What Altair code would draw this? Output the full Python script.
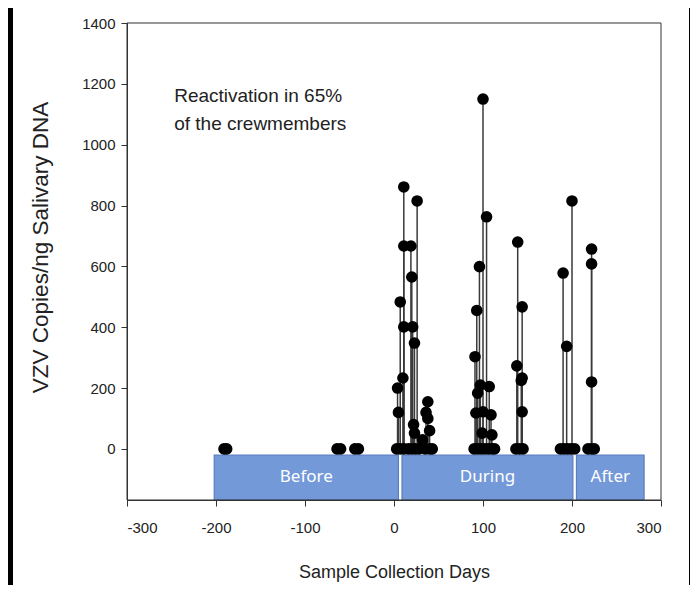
import altair as alt
import pandas as pd

# ---------------- data ----------------
# sample collection day and VZV copies/ng salivary DNA
point_days = [
    -191, -188, -64, -60, -44, -40,
    3, 4, 5, 7, 7, 10, 11, 11, 11, 11, 16, 19, 20, 20, 21, 23, 22, 23, 24, 26, 28, 32, 35, 36, 38, 38, 40, 40, 43,
    90, 91, 92, 93, 94, 94, 96, 97, 98, 99, 100, 100, 102, 104, 106, 107, 109, 110, 110, 113,
    137, 138, 139, 141, 143, 144, 144, 144, 145,
    187, 190, 191, 194, 195, 199, 200, 203,
    218, 222, 222, 222, 222, 225,
]
point_values = [
    0, 0, 0, 0, 0, 0,
    0, 200, 120, 483, 0, 233, 401, 667, 861, 0, 0, 667, 565, 0, 401, 348, 80, 52, 0, 815, 0, 30, 0, 120, 155, 100, 60, 0, 0,
    0, 303, 118, 455, 183, 0, 599, 210, 0, 52, 1150, 122, 0, 763, 0, 205, 112, 46, 0, 0,
    0, 273, 680, 0, 225, 467, 233, 122, 0,
    0, 578, 0, 337, 0, 0, 815, 0,
    0, 657, 608, 220, 0, 0,
]

phase_labels = ["Before", "During", "After"]
phase_start = [-202, 9, 205]
phase_end = [5, 201, 281]
phase_top = [-20, -20, -20]
phase_bottom = [-168, -168, -168]

note_lines = ["Reactivation in 65%", "of the crewmembers"]
note_day = [-247, -247]
note_value = [1160, 1068]

x_ticks = [-300, -200, -100, 0, 100, 200, 300]
y_ticks = [0, 200, 400, 600, 800, 1000, 1200, 1400]
x_domain = [-300, 300]
y_domain = [-168, 1400]

# ---------------- tables ----------------
pts = pd.DataFrame({"day": point_days, "value": point_values})
pts["base"] = 0
stems = pts[pts["value"] > 0]
phases = pd.DataFrame({"label": phase_labels, "start": phase_start, "end": phase_end,
                       "top": phase_top, "bottom": phase_bottom})
phases["mid"] = [(a + b) / 2 for a, b in zip(phase_start, phase_end)]
phases["ymid"] = [(a + b) / 2 for a, b in zip(phase_top, phase_bottom)]
notes = pd.DataFrame({"text": note_lines, "day": note_day, "value": note_value})
frame = pd.DataFrame({"x0": [x_domain[0]], "x1": [x_domain[1]], "y0": [y_domain[0]], "y1": [y_domain[1]]})

SANS = "Liberation Sans, Arial, sans-serif"

xscale = alt.Scale(domain=x_domain, nice=False, zero=False)
yscale = alt.Scale(domain=y_domain, nice=False, zero=False)

xaxis = alt.Axis(values=x_ticks, title="Sample Collection Days", grid=False,
                 labelExpr="'' + datum.value",
                 labelFont=SANS, labelFontSize=15, labelColor="#222", labelPadding=14,
                 titleFont=SANS, titleFontSize=18, titleFontWeight="normal", titleColor="#222",
                 titleY=72, titleBaseline="middle",
                 tickSize=6, tickColor="#333", domainColor="#333", zindex=1)
yaxis = alt.Axis(values=y_ticks, title="VZV Copies/ng Salivary DNA", grid=False,
                 labelExpr="'' + datum.value",
                 labelFont=SANS, labelFontSize=15, labelColor="#222", labelPadding=6,
                 titleFont=SANS, titleFontSize=22.5, titleFontWeight="normal", titleColor="#222",
                 titleX=-87, titleY=224, titleBaseline="middle", titleAlign="center", titleAngle=270,
                 tickSize=6, tickColor="#333", domainColor="#333", zindex=1)

# white panel on the black page background (decoration)
panel = alt.Chart(pd.DataFrame({"k": [0]})).mark_rect(fill="white").encode(
    x=alt.value(-114), x2=alt.value(562), y=alt.value(-20), y2=alt.value(565)
)

boxes = alt.Chart(phases).mark_rect(fill="#7399d8", stroke="#5a7dbd", strokeWidth=1.2).encode(
    x=alt.X("start:Q", scale=xscale, axis=xaxis), x2="end:Q",
    y=alt.Y("top:Q", scale=yscale, axis=yaxis), y2="bottom:Q",
)
box_text = alt.Chart(phases).mark_text(font="Noto Sans, Open Sans, sans-serif", fontSize=17,
                                       color="white", baseline="middle").encode(
    x=alt.X("mid:Q", scale=xscale, axis=xaxis), y=alt.Y("ymid:Q", scale=yscale, axis=yaxis),
    text="label:N",
)
rules = alt.Chart(stems).mark_rule(color="#3a3a3a", strokeWidth=1.5).encode(
    x=alt.X("day:Q", scale=xscale, axis=xaxis),
    y=alt.Y("base:Q", scale=yscale, axis=yaxis), y2="value:Q",
)
dots = alt.Chart(pts).mark_circle(size=135, color="black", opacity=1).encode(
    x=alt.X("day:Q", scale=xscale, axis=xaxis),
    y=alt.Y("value:Q", scale=yscale, axis=yaxis),
)
note = alt.Chart(notes).mark_text(font=SANS, fontSize=19, color="#222", align="left",
                                  baseline="middle").encode(
    x=alt.X("day:Q", scale=xscale, axis=xaxis),
    y=alt.Y("value:Q", scale=yscale, axis=yaxis),
    text="text:N",
)
border = alt.Chart(frame).mark_rect(fillOpacity=0, stroke="#333", strokeWidth=1).encode(
    x=alt.X("x0:Q", scale=xscale, axis=xaxis), x2="x1:Q",
    y=alt.Y("y0:Q", scale=yscale, axis=yaxis), y2="y1:Q",
)

chart = alt.layer(panel, boxes, box_text, rules, dots, note, border).properties(
    width=534, height=477,
    autosize=alt.AutoSizeParams(type="none"),
    padding={"left": 119, "top": 15, "right": 29, "bottom": 85},
    background="black",
).configure_view(stroke=None)

chart.save("out.html", embed_options={"renderer": "svg", "actions": False})
